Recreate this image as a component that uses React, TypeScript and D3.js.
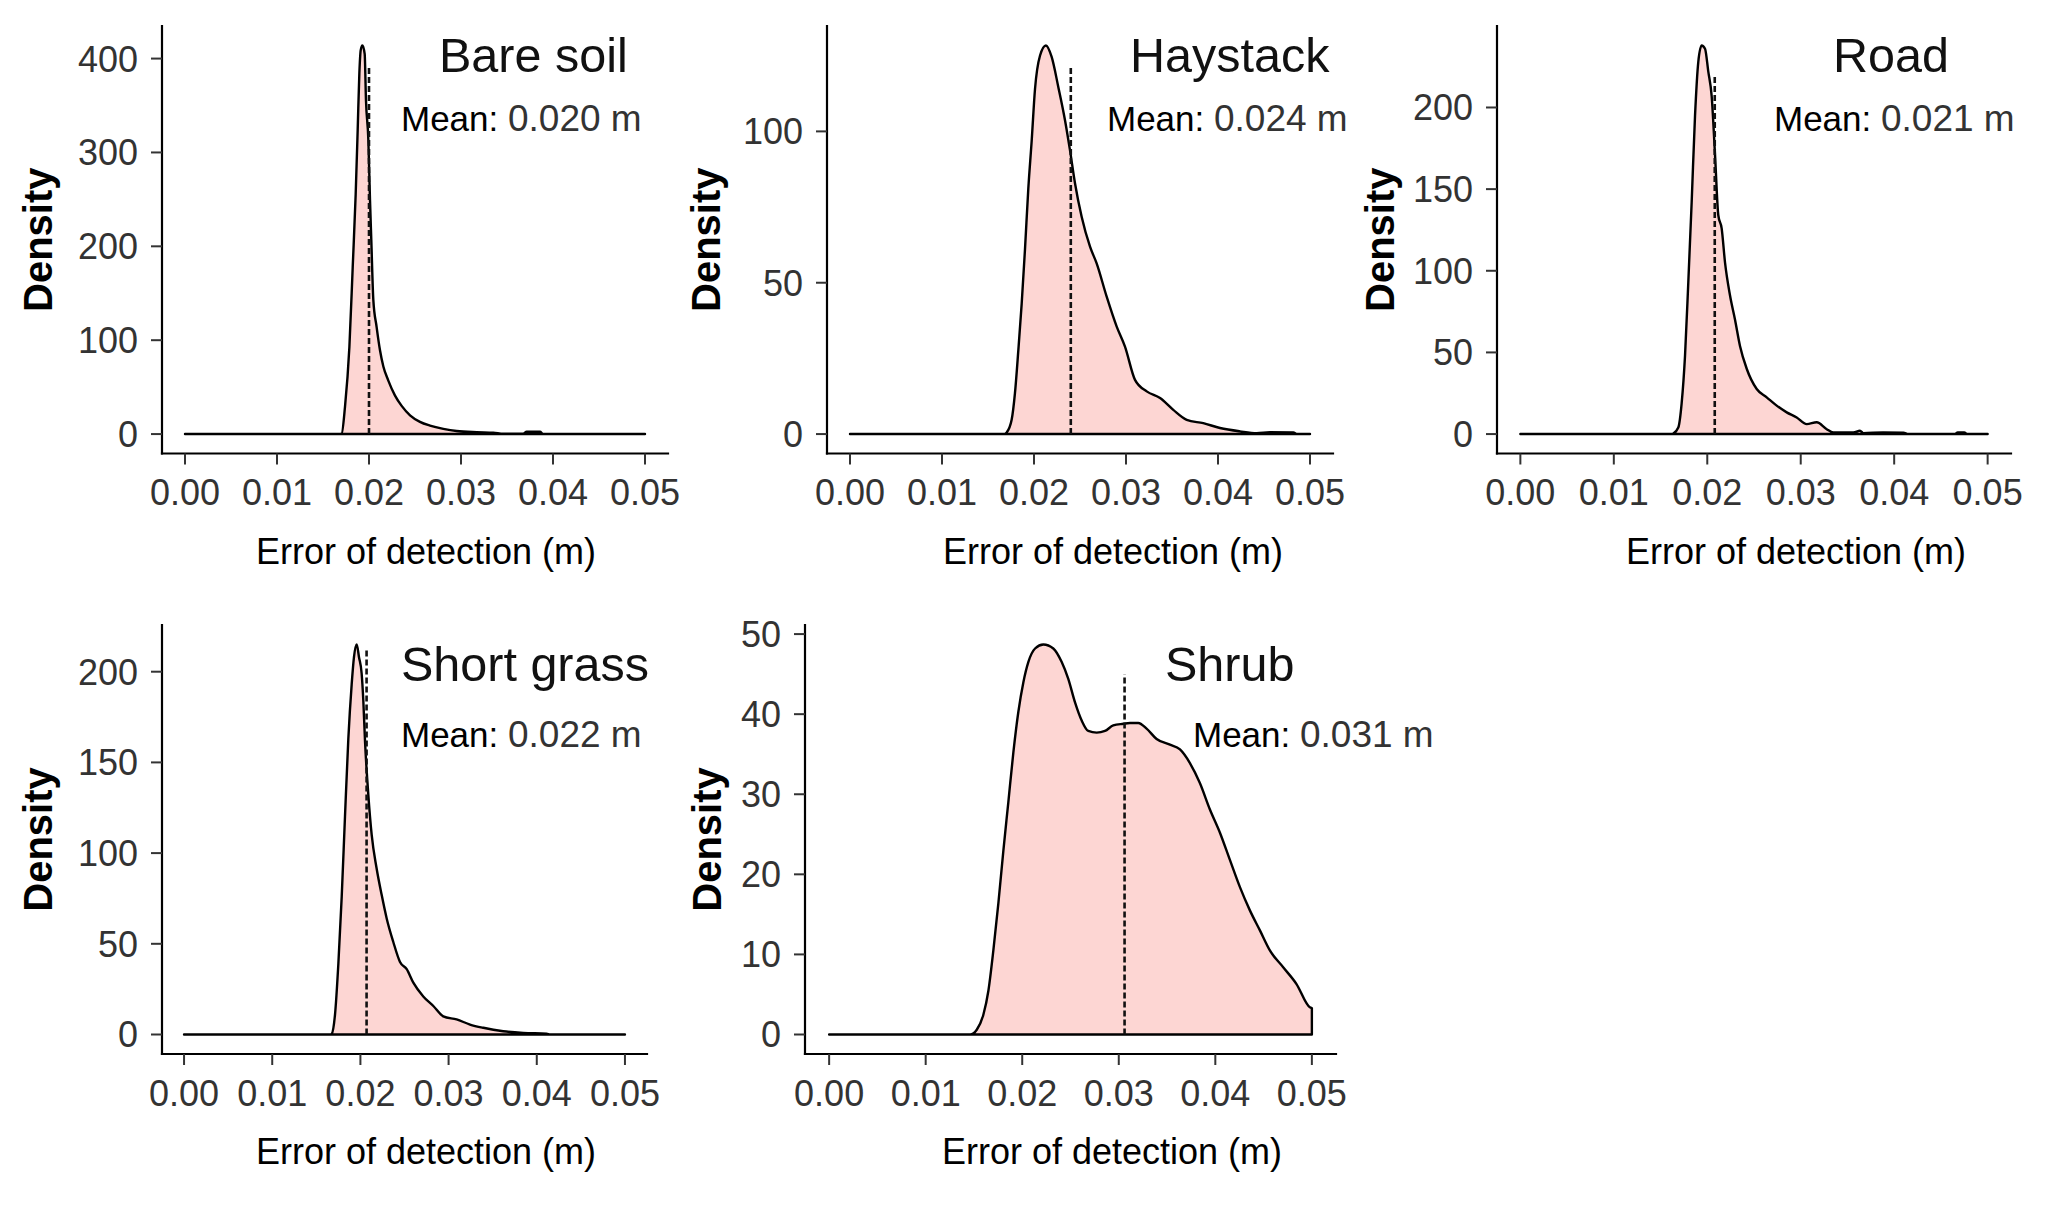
import React from "react";
import * as d3 from "d3";

const FONT = "'Liberation Sans', Arial, Helvetica, sans-serif";

// density curves: [error of detection (m), density]
const bareSoil: [number, number][] = [
  [0, 0], [0.0168, 0], [0.01703, 0.5], [0.01739, 29], [0.01787, 93], [0.01823, 178],
  [0.01855, 255], [0.01877, 324], [0.01895, 384], [0.0191, 409], [0.01928, 414],
  [0.01953, 405], [0.01967, 356], [0.01993, 313], [0.02011, 249], [0.02025, 207],
  [0.02047, 143], [0.02083, 114], [0.0212, 89], [0.02156, 72], [0.0221, 57],
  [0.02283, 41], [0.02355, 30], [0.02446, 20], [0.02554, 13], [0.02663, 9],
  [0.02808, 5.5], [0.02953, 3.2], [0.03171, 2], [0.03351, 1.5], [0.0346, 0.3],
  [0.03677, 0.3], [0.03714, 2.5], [0.03859, 2.5], [0.0389, 0.2], [0.0395, 0], [0.05, 0],
];

const haystack: [number, number][] = [
  [0, 0], [0.0168, 0], [0.01703, 0.5], [0.01757, 4.7], [0.01793, 13.5], [0.0183, 27.8],
  [0.01866, 43], [0.01902, 61], [0.01938, 81], [0.01975, 97], [0.02011, 114],
  [0.02065, 125], [0.0213, 128.4], [0.02192, 124.6], [0.02264, 114.7], [0.02337, 103.7],
  [0.02391, 93.8], [0.02446, 82.8], [0.02518, 71.8], [0.02609, 61.9], [0.02681, 56.4],
  [0.0279, 45.4], [0.02899, 35.5], [0.02989, 28.9], [0.03098, 17.9], [0.03225, 14.1],
  [0.0337, 11.9], [0.03514, 8], [0.0366, 4.7], [0.0384, 3.6], [0.04022, 2],
  [0.04239, 0.9], [0.04421, 0.3], [0.04565, 0.6], [0.04819, 0.5], [0.0486, 0], [0.05, 0],
];

const road: [number, number][] = [
  [0, 0], [0.0162, 0], [0.01636, 0.3], [0.0169, 4], [0.01726, 19], [0.01762, 48],
  [0.01797, 93], [0.01833, 142], [0.01869, 195], [0.01904, 228], [0.0194, 238],
  [0.01976, 236], [0.02011, 222], [0.02047, 207], [0.02083, 171], [0.02118, 134],
  [0.02154, 126], [0.0219, 105], [0.02243, 85], [0.02297, 70], [0.0235, 54],
  [0.02422, 40], [0.02529, 27.6], [0.02636, 22.5], [0.02743, 17.4], [0.0285, 13.3],
  [0.02957, 10.2], [0.03064, 6.1], [0.03171, 7.2], [0.03278, 3], [0.03349, 1],
  [0.03563, 1], [0.03634, 2], [0.0367, 0.6], [0.0388, 1], [0.041, 0.8], [0.0415, 0],
  [0.0465, 0], [0.0468, 1], [0.0475, 1], [0.0478, 0], [0.05, 0],
];

const shortGrass: [number, number][] = [
  [0, 0], [0.0166, 0], [0.01674, 0.3], [0.01712, 11], [0.0175, 39], [0.01788, 76],
  [0.01825, 120], [0.01863, 163], [0.01901, 193], [0.01927, 208], [0.01958, 215],
  [0.01984, 208], [0.02014, 199], [0.02033, 184], [0.02052, 162], [0.0209, 132],
  [0.02128, 110], [0.02184, 91.5], [0.02241, 77], [0.02298, 64], [0.02373, 51],
  [0.02449, 40], [0.02525, 36], [0.026, 28.6], [0.02713, 21], [0.02827, 15.7],
  [0.0294, 10], [0.03091, 8.3], [0.03243, 5.5], [0.03394, 3.7], [0.0362, 1.8],
  [0.03847, 0.9], [0.04112, 0.5], [0.0415, 0], [0.05, 0],
];

const shrub: [number, number][] = [
  [0, 0], [0.0146, 0], [0.01529, 0.6], [0.01598, 2.5], [0.0165, 5.5], [0.01701, 10.5],
  [0.01753, 16.4], [0.01805, 23], [0.01856, 29], [0.01908, 35.2], [0.0196, 40.3],
  [0.02012, 44], [0.02063, 46.5], [0.02133, 48.2], [0.02219, 48.7], [0.02322, 48.2],
  [0.02409, 46.5], [0.02477, 44.4], [0.02546, 41.5], [0.02616, 39.2], [0.02684, 37.9],
  [0.02771, 37.7], [0.02857, 37.9], [0.02943, 38.6], [0.03047, 38.8], [0.03116, 38.9],
  [0.03202, 38.9], [0.03288, 38.2], [0.03392, 36.9], [0.0353, 36.2], [0.03634, 35.6],
  [0.03737, 33.9], [0.0384, 31.4], [0.03944, 28.1], [0.04048, 25.2], [0.04151, 21.8],
  [0.04255, 18.4], [0.04358, 15.5], [0.04462, 13], [0.04565, 10.5], [0.04703, 8.4],
  [0.04841, 6.3], [0.04979, 3.4], [0.05, 3.3],
];

const curves = [bareSoil, haystack, road, shortGrass, shrub];
const panelNames = ["Bare soil", "Haystack", "Road", "Short grass", "Shrub"];
const meanLabels = ["0.020", "0.024", "0.021", "0.022", "0.031"];
// where the dashed mean line stands, and how high it reaches
const meanLineX = [0.02, 0.024, 0.0208, 0.0207, 0.0306];
const meanLineTop = [393, 121, 219, 213, 45];

const xTickValues = [0, 0.01, 0.02, 0.03, 0.04, 0.05];
const yTickValues = [
  [0, 100, 200, 300, 400],
  [0, 50, 100],
  [0, 50, 100, 150, 200],
  [0, 50, 100, 150, 200],
  [0, 10, 20, 30, 40, 50],
];

// pixel layout of each panel
const layout = [
  { left: 162, right: 668, top: 26, bottom: 453.5, xTitle: 426, yTitle: 52, titleX: 439, titleY: 72, meanX: 401, meanY: 131 },
  { left: 827, right: 1333, top: 26, bottom: 453.5, xTitle: 1113, yTitle: 720, titleX: 1130, titleY: 72, meanX: 1107, meanY: 131 },
  { left: 1497, right: 2011, top: 26, bottom: 453.5, xTitle: 1796, yTitle: 1394, titleX: 1833, titleY: 72, meanX: 1774, meanY: 131 },
  { left: 162, right: 647, top: 625, bottom: 1054, xTitle: 426, yTitle: 52, titleX: 401, titleY: 681, meanX: 401, meanY: 747 },
  { left: 805, right: 1336, top: 625, bottom: 1054, xTitle: 1112, yTitle: 721, titleX: 1165, titleY: 681, meanX: 1193, meanY: 747 },
];

const fmtX = d3.format(".2f");

function Panel({ i }: { i: number }) {
  const L = layout[i];
  const data = curves[i];
  const maxY = d3.max(data, (d) => d[1]) as number;

  // ggplot-style 5% expansion on both axes
  const x = d3.scaleLinear().domain([-0.0025, 0.0525]).range([L.left, L.right]);
  const y = d3.scaleLinear().domain([-0.05 * maxY, 1.05 * maxY]).range([L.bottom, L.top]);

  const area = d3
    .area<[number, number]>()
    .x((d) => x(d[0]))
    .y0(y(0))
    .y1((d) => y(d[1]))
    .curve(d3.curveMonotoneX);

  const tickLen = 11;
  const midY = (L.top + L.bottom) / 2;

  return (
    <g>
      <path d={area(data) || ""} fill="#FDD6D3" stroke="#000" strokeWidth={2.4} strokeLinejoin="round" />
      <line
        x1={x(meanLineX[i])}
        x2={x(meanLineX[i])}
        y1={y(0)}
        y2={y(meanLineTop[i])}
        stroke="#111"
        strokeWidth={2.6}
        strokeDasharray="6,3"
      />

      {/* axes */}
      <line x1={L.left} x2={L.right} y1={L.bottom} y2={L.bottom} stroke="#000" strokeWidth={2.2} strokeLinecap="square" />
      <line x1={L.left} x2={L.left} y1={L.top} y2={L.bottom} stroke="#000" strokeWidth={2.2} strokeLinecap="square" />

      {xTickValues.map((t) => (
        <g key={"x" + t}>
          <line x1={x(t)} x2={x(t)} y1={L.bottom} y2={L.bottom + tickLen} stroke="#333" strokeWidth={2} />
          <text x={x(t)} y={L.bottom + 51.5} textAnchor="middle" fontSize={36} fill="#333" fontFamily={FONT}>
            {fmtX(t)}
          </text>
        </g>
      ))}
      {yTickValues[i].map((t) => (
        <g key={"y" + t}>
          <line x1={L.left - tickLen} x2={L.left} y1={y(t)} y2={y(t)} stroke="#333" strokeWidth={2} />
          <text x={L.left - 24} y={y(t)} dy="0.36em" textAnchor="end" fontSize={36} fill="#333" fontFamily={FONT}>
            {t}
          </text>
        </g>
      ))}

      <text x={L.xTitle} y={L.bottom + 110} textAnchor="middle" fontSize={36} fill="#000" fontFamily={FONT}>
        Error of detection (m)
      </text>
      <text
        transform={`translate(${L.yTitle},${midY}) rotate(-90)`}
        textAnchor="middle"
        fontSize={40}
        fontWeight="bold"
        fill="#000"
        fontFamily={FONT}
      >
        Density
      </text>

      <text x={L.titleX} y={L.titleY} fontSize={48.5} fill="#111" fontFamily={FONT}>
        {panelNames[i]}
      </text>
      <text x={L.meanX} y={L.meanY} fontSize={35} fill="#000" fontFamily={FONT}>
        Mean: <tspan fill="#333" fontSize={37}>{meanLabels[i]} m</tspan>
      </text>
    </g>
  );
}

export default function App() {
  return (
    <svg
      width={2067}
      height={1207}
      style={{ position: "absolute", left: 0, top: 0, background: "#fff" }}
    >
      <rect width={2067} height={1207} fill="#fff" />
      {panelNames.map((_, i) => (
        <Panel key={i} i={i} />
      ))}
    </svg>
  );
}
